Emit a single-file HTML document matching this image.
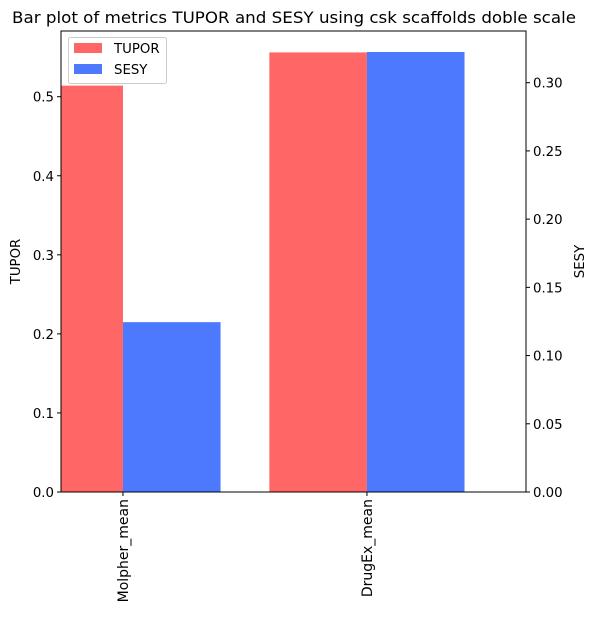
<!DOCTYPE html>
<html><head><meta charset="utf-8"><style>
body{margin:0;background:#fff;font-family:"Liberation Sans","DejaVu Sans",sans-serif}
text{font-family:"DejaVu Sans","Liberation Sans",sans-serif}
</style></head><body>
<svg id="chart" width="596" height="614" xmlns="http://www.w3.org/2000/svg">
<text x="12" y="23" font-size="16" textLength="564" lengthAdjust="spacingAndGlyphs">Bar plot of metrics TUPOR and SESY using csk scaffolds doble scale</text>
<g id="bars"></g>
<g id="axes"></g>
</svg>
<script>
const categories = ["Molpher_mean", "DrugEx_mean"];
const tuporValues = [0.514, 0.556];
const sesyValues = [0.1245, 0.3225];
const leftTicks = [0.0, 0.1, 0.2, 0.3, 0.4, 0.5];
const rightTicks = [0.00, 0.05, 0.10, 0.15, 0.20, 0.25, 0.30];

const L = 61, R = 526, T = 31, B = 492;
const xMin = -0.254, xMax = 1.652;
const x = v => L + (v - xMin) / (xMax - xMin) * (R - L);
const yL = v => B - v / 0.5 * (B - 96.7);
const yR = v => B - v / 0.30 * (B - 82.7);
const NS = "http://www.w3.org/2000/svg";
const svg = document.getElementById("chart");
const bars = document.getElementById("bars");
const axes = document.getElementById("axes");
function mk(tag, attrs, parent) { const e = document.createElementNS(NS, tag); for (const k in attrs) e.setAttribute(k, attrs[k]); parent.appendChild(e); return e; }

const clip = mk("clipPath", {id: "pc"}, svg);
mk("rect", {x: L, y: T, width: R - L, height: B - T}, clip);
bars.setAttribute("clip-path", "url(#pc)");
const w = 0.4;
categories.forEach((c, i) => {
  const r = mk("rect", {x: x(i - w), y: yL(tuporValues[i]), width: x(w) - x(0), height: B - yL(tuporValues[i]), fill: "#ff6666"}, bars);
  
  
  const s = mk("rect", {x: x(i), y: yR(sesyValues[i]), width: x(w) - x(0), height: B - yR(sesyValues[i]), fill: "#4d79ff"}, bars);
  
  
});

const frame = mk("rect", {x: L, y: T, width: R - L, height: B - T, fill: "none", stroke: "#000", "stroke-width": 1}, axes);



leftTicks.forEach(t => {
  const y = yL(t);
  mk("line", {x1: L - 4, x2: L, y1: y, y2: y, stroke: "#000"}, axes);
  const tx = mk("text", {x: L - 7, y: y + 5, "text-anchor": "end", "font-size": 13.3}, axes);
  tx.textContent = t.toFixed(1);
  
  
});
rightTicks.forEach(t => {
  const y = yR(t);
  mk("line", {x1: R, x2: R + 4, y1: y, y2: y, stroke: "#000"}, axes);
  const tx = mk("text", {x: R + 7, y: y + 5, "font-size": 13.3}, axes);
  tx.textContent = t.toFixed(2);
  
  
});
categories.forEach((c, i) => {
  const cx = x(i);
  mk("line", {x1: cx, x2: cx, y1: B, y2: B + 4, stroke: "#000"}, axes);
  const tx = mk("text", {x: 0, y: 0, "text-anchor": "end", "font-size": 14, transform: `translate(${cx + 5},${B + 7}) rotate(-90)`}, axes);
  tx.textContent = c;
  
  
});
const yl = mk("text", {x: 0, y: 0, "text-anchor": "middle", "font-size": 13.3, transform: `translate(20,${(T + B) / 2}) rotate(-90)`}, axes);
yl.textContent = "TUPOR";


const yr = mk("text", {x: 0, y: 0, "text-anchor": "middle", "font-size": 13.3, transform: `translate(584,${(T + B) / 2}) rotate(-90)`}, axes);
yr.textContent = "SESY";


</script>
<svg style="position:absolute;left:0;top:0" width="596" height="614">
<rect x="68.5" y="37.5" width="98" height="46" rx="2" fill="#fff" fill-opacity="0.8" stroke="#ccc"/>
<rect x="74" y="43" width="28" height="10" fill="#ff6666"/>
<text x="114" y="53" font-size="13.3">TUPOR</text>
<rect x="74" y="64" width="28" height="10" fill="#4d79ff"/>
<text x="114" y="74" font-size="13.3">SESY</text>
</svg>
</body></html>
